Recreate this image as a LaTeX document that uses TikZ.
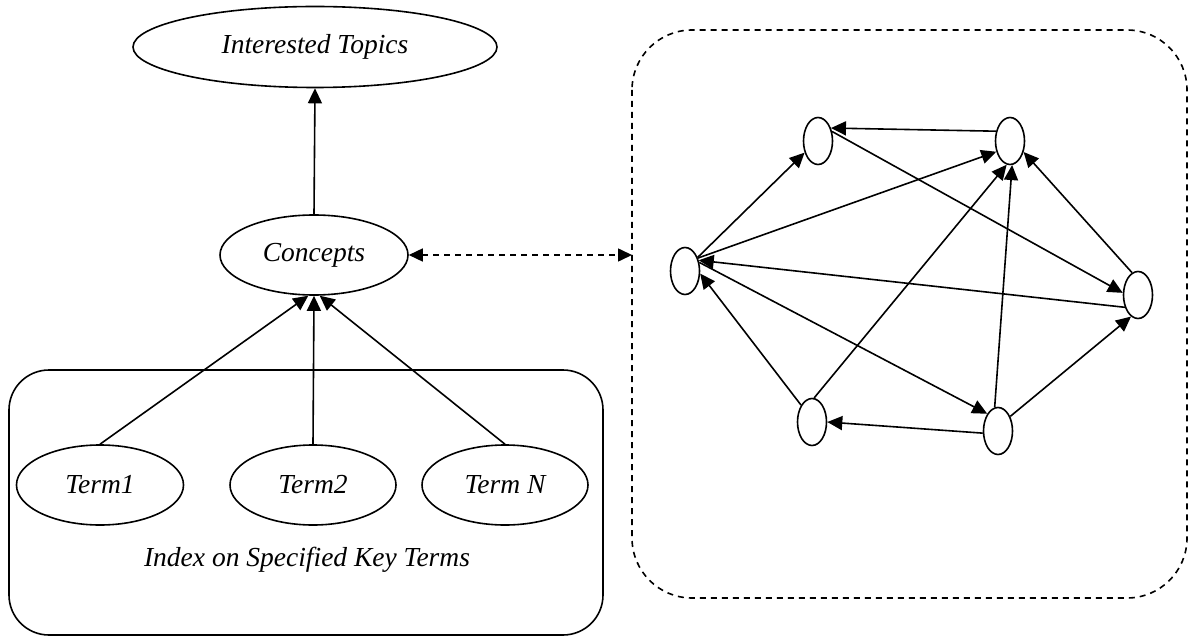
\documentclass[tikz,border=0pt]{standalone}
\usepackage{fontspec}
\setmainfont{Liberation Serif}
\usetikzlibrary{shapes.geometric,arrows.meta}
\begin{document}
\begin{tikzpicture}[x=1pt,y=-1pt,
  line width=1.6pt,
  tip/.style={-{Triangle[length=15pt,width=14pt]}},
  bigell/.style={draw,ellipse,inner sep=0pt,font=\fontsize{27.5}{32}\selectfont\itshape},
  smell/.style={draw,ellipse,inner sep=0pt,minimum width=29pt,minimum height=47pt},
  lbl/.style={font=\fontsize{27.5}{32}\selectfont\itshape},
  dsh/.style={dash pattern=on 6pt off 5pt}]
\useasboundingbox (0,0) rectangle (1193,636);
% left part
\node[bigell,minimum width=364pt,minimum height=81pt] (topics) at (315,47) {Interested Topics};
\node[bigell,minimum width=188pt,minimum height=80pt] (concepts) at (314,255) {Concepts};
\draw[rounded corners=40pt] (9,370) rectangle (603,635);
\node[bigell,minimum width=167pt,minimum height=80pt] (t1) at (100,485) {Term1};
\node[bigell,minimum width=166pt,minimum height=80pt] (t2) at (313,485) {Term2};
\node[bigell,minimum width=166pt,minimum height=80pt] (tn) at (505,485) {Term N};
\node[lbl] (idx) at (307,560) {Index on Specified Key Terms};
\draw[tip] (concepts.north) -- (topics.south);
\draw[tip] (t1.north) -- (concepts.262);
\draw[tip] (t2.north) -- (concepts.south);
\draw[tip] (tn.north) -- (concepts.278);
% right part
\draw[dsh,rounded corners=60pt] (632,30) rectangle (1187,598);
\coordinate (boxw) at (632,255);
\draw[dsh,{Triangle[length=14pt,width=13pt]}-{Triangle[length=14pt,width=13pt]}] (concepts.east) -- (boxw);
\node[smell] (a) at (818,141) {};
\node[smell] (b) at (1010,141) {};
\node[smell] (c) at (685,271) {};
\node[smell] (d) at (1138,295) {};
\node[smell] (e) at (812,422) {};
\node[smell] (f) at (998,431) {};
\draw[tip] (b.145) -- (a.45);
\draw[tip] (a.34) -- (d.172);
\draw[tip] (c.47) -- (a.221);
\draw[tip] (c.45) -- (b.218);
\draw[tip] (d.105) -- (b.321);
\draw[tip] (d.223) -- (c.38);
\draw[tip] (e.123) -- (c.350);
\draw[tip] (e.85) -- (b.262);
\draw[tip] (f.98) -- (b.275);
\draw[tip] (c.31) -- (f.122);
\draw[tip] (f.188) -- (e.0);
\draw[tip] (f.50) -- (d.252);
\end{tikzpicture}
\end{document}
